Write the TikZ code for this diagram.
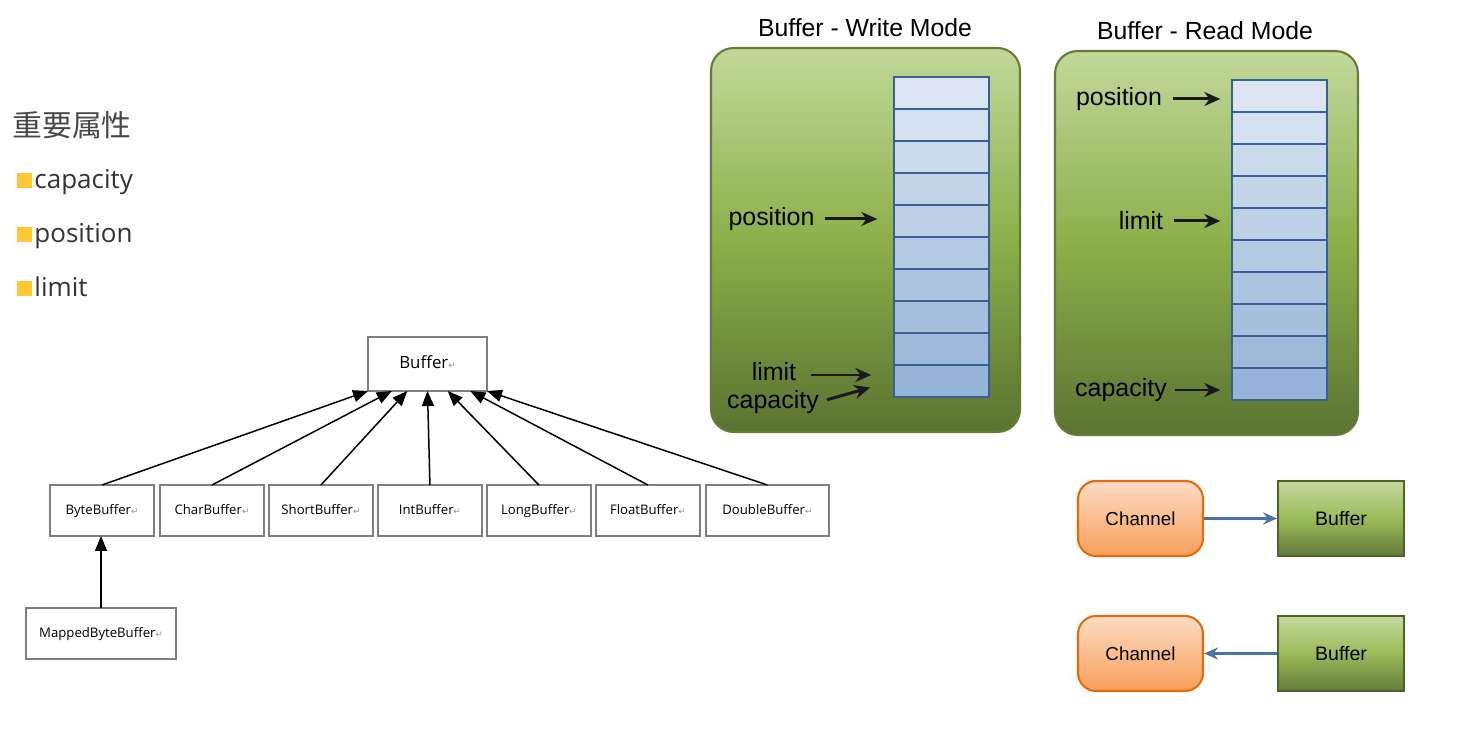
\documentclass[tikz,border=0pt]{standalone}
\usepackage{fontspec}
\setmainfont{Liberation Sans}
\newfontfamily\uifont{Open Sans}
\newfontfamily\cjkfont{Noto Sans CJK SC}
\newfontfamily\symfont{DejaVu Sans}
\usetikzlibrary{arrows.meta, positioning, calc}
\usepackage{xcolor}
\definecolor{PanelTop}{HTML}{C2D89A}
\definecolor{PanelMid}{HTML}{8DAF4A}
\definecolor{PanelBot}{HTML}{5B7331}
\definecolor{PanelEdge}{HTML}{667C36}
\definecolor{CellTop}{HTML}{DCE6F2}
\definecolor{CellBot}{HTML}{95B3D7}
\definecolor{CellEdge}{HTML}{3A5F95}
\definecolor{ChanTop}{HTML}{FCDCC4}
\definecolor{ChanBot}{HTML}{F79F5A}
\definecolor{ChanEdge}{HTML}{E46C0A}
\definecolor{BufTop}{HTML}{C6D9A0}
\definecolor{BufMid}{HTML}{9BBB59}
\definecolor{BufBot}{HTML}{64793A}
\definecolor{BufEdge}{HTML}{4F6228}
\definecolor{FlowBlue}{HTML}{4A73A8}
\definecolor{BulletGold}{HTML}{FFC832}
\definecolor{ClassEdge}{HTML}{7F7F7F}
\newcommand\pmark{{\symfont\fontsize{5}{5}\selectfont\color{black!45}↵}}
\tikzset{
    % class diagram
    classbox/.style={
        rectangle,
        draw=ClassEdge,
        line width=0.9pt,
        minimum width=2.08cm,
        minimum height=1.02cm,
        inner sep=0pt,
        outer sep=0pt,
        text height=0.72em,
        text depth=0.22em,
        font=\uifont\fontsize{7.5}{9}\selectfont
    },
    inherit/.style={
        -{Triangle[length=0.3cm,width=0.24cm]},
        line width=0.85pt,
        draw=black
    },
    % attribute list
    bullet/.style={
        rectangle,
        fill=BulletGold,
        minimum size=0.29cm,
        inner sep=0pt
    },
    attr/.style={
        inner sep=0pt,
        anchor=base west,
        text=black!80,
        font=\uifont\fontsize{14.8}{17}\selectfont
    },
    % buffer modes
    panel/.style={
        rectangle,
        rounded corners=0.45cm,
        draw=PanelEdge,
        line width=1.2pt,
        top color=PanelTop,
        bottom color=PanelBot,
        middle color=PanelMid,
        minimum height=7.68cm
    },
    cell/.style={
        rectangle,
        draw=CellEdge,
        line width=0.8pt,
        minimum width=1.9cm,
        minimum height=0.64cm,
        inner sep=0pt
    },
    title/.style={
        inner sep=0pt,
        font=\fontsize{14.1}{16}\selectfont
    },
    ptr/.style={
        inner sep=0pt,
        font=\fontsize{14.2}{16}\selectfont
    },
    ptrarrow/.style={
        -{Stealth[length=0.32cm,width=0.28cm]},
        line width=1.7pt,
        draw=black!90
    },
    % channel and buffer
    channel/.style={
        rectangle,
        rounded corners=0.36cm,
        draw=ChanEdge,
        line width=1.2pt,
        top color=ChanTop,
        bottom color=ChanBot,
        minimum width=2.5cm,
        minimum height=1.5cm,
        font=\fontsize{10.7}{12}\selectfont
    },
    bufbox/.style={
        rectangle,
        draw=BufEdge,
        line width=1pt,
        top color=BufTop,
        bottom color=BufBot,
        middle color=BufMid,
        minimum width=2.52cm,
        minimum height=1.5cm,
        font=\fontsize{11.1}{12}\selectfont
    },
    flow/.style={
        -{Stealth[length=0.28cm,width=0.24cm]},
        line width=1.5pt,
        draw=FlowBlue
    }
}
\begin{document}
\begin{tikzpicture}[x=0.02cm, y=-0.02cm]
    \useasboundingbox (0,0) rectangle (1458,732);

    % attributes
    \node[inner sep=0pt, anchor=west, text=black!72, font=\cjkfont\fontsize{17}{20}\selectfont] (attrs) at (12,125) {重要属性};
    \node[bullet] (sq1) at (24.5,180.5) {};
    \node[attr] (acap) at ([xshift=0.04cm]sq1.south east) {capacity};
    \node[bullet] (sq2) at (24.5,234.5) {};
    \node[attr] (apos) at ([xshift=0.04cm]sq2.south east) {position};
    \node[bullet] (sq3) at (24.5,288.5) {};
    \node[attr] (alim) at ([xshift=0.04cm]sq3.south east) {limit};

    % class hierarchy
    \node[classbox, minimum width=2.38cm, minimum height=1.08cm, font=\uifont\fontsize{9.6}{11}\selectfont] (buf) at (427.5,364) {Buffer\pmark};
    \node[classbox] (byte) at (102,510.5) {ByteBuffer\pmark};
    \node[classbox, right=0.12cm of byte] (char) {CharBuffer\pmark};
    \node[classbox, right=0.1cm of char] (short) {ShortBuffer\pmark};
    \node[classbox, right=0.1cm of short] (int) {IntBuffer\pmark};
    \node[classbox, right=0.1cm of int] (long) {LongBuffer\pmark};
    \node[classbox, right=0.1cm of long] (float) {FloatBuffer\pmark};
    \node[classbox, minimum width=2.46cm, right=0.12cm of float] (double) {DoubleBuffer\pmark};
    \node[classbox, minimum width=3cm] (mapped) at (101,633.5) {MappedByteBuffer\pmark};

    \foreach \cls/\f in {byte/0, char/0.2, short/0.33, int/0.5, long/0.67, float/0.86, double/1}
        \draw[inherit] (\cls.north) -- ($(buf.south west)!\f!(buf.south east)$);
    \draw[inherit] (mapped.north) -- (mapped.north |- byte.south);

    % write mode
    \node[panel, minimum width=6.18cm] (wpanel) at (865.5,240) {};
    \node[title] (wtitle) at (865,28) {Buffer - Write Mode};
    \foreach \i in {1,...,10} {
        \pgfmathtruncatemacro\mix{100-(\i-1)*11}
        \node[cell, fill=CellTop!\mix!CellBot] (wc\i) at (941.5,{93+(\i-1)*32}) {};
    }
    \node[ptr] (wpos) at (771.5,219) {position};
    \node[ptr] (wlim) at (774,372) {limit};
    \node[ptr] (wcap) at (773,402) {capacity};
    \draw[ptrarrow, shorten <=0.2cm, shorten >=0.32cm] (wpos.east) -- (wpos.east -| wc5.west);
    \draw[ptrarrow, shorten <=0.28cm, shorten >=0.44cm] ([yshift=-0.06cm]wlim.east) -- ([yshift=-0.06cm]wlim.east -| wc10.west);
    \draw[ptrarrow, shorten <=0.16cm, shorten >=0.48cm] (wcap.east) -- (wc10.west);

    % read mode
    \node[panel, minimum width=6.06cm] (rpanel) at (1206.5,243) {};
    \node[title] (rtitle) at (1205,31) {Buffer - Read Mode};
    \foreach \i in {1,...,10} {
        \pgfmathtruncatemacro\mix{100-(\i-1)*11}
        \node[cell, fill=CellTop!\mix!CellBot] (rc\i) at (1279.5,{96+(\i-1)*32}) {};
    }
    \node[ptr] (rpos) at (1119,99) {position};
    \node[ptr] (rlim) at (1141,221) {limit};
    \node[ptr] (rcap) at (1121,390) {capacity};
    \draw[ptrarrow, shorten <=0.22cm, shorten >=0.22cm] (rpos.east) -- (rpos.east -| rc1.west);
    \draw[ptrarrow, shorten <=0.2cm, shorten >=0.22cm] (rlim.east) -- (rlim.east -| rc5.west);
    \draw[ptrarrow, shorten <=0.16cm, shorten >=0.22cm] (rcap.east) -- (rcap.east -| rc10.west);

    % channel <-> buffer
    \node[channel] (chan1) at (1140.5,518.5) {Channel};
    \node[bufbox] (buf1) at (1341,518.5) {Buffer};
    \node[channel] (chan2) at (1140.5,653.5) {Channel};
    \node[bufbox] (buf2) at (1341,653.5) {Buffer};
    \draw[flow] (chan1) -- (buf1);
    \draw[flow] (buf2) -- (chan2);
\end{tikzpicture}
\end{document}
